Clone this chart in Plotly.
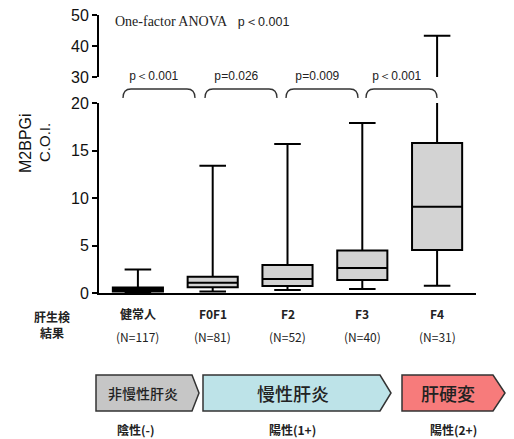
import plotly.graph_objects as go

# ---- data ----
categories = ["健常人", "F0F1", "F2", "F3", "F4"]
n_labels = ["(N=117)", "(N=81)", "(N=52)", "(N=40)", "(N=31)"]
q1 = [0.2, 0.63, 0.77, 1.4, 4.56]
median = [0.4, 1.1, 1.5, 2.66, 9.1]
q3 = [0.6, 1.75, 2.98, 4.5, 15.8]
lower = [0.1, 0.2, 0.35, 0.45, 0.8]
upper = [2.5, 13.4, 15.7, 17.9, 43.3]
lower_ticks = [0, 5, 10, 15, 20]
upper_ticks = [30, 40, 50]
p_values = ["p＜0.001", "p=0.026", "p=0.009", "p＜0.001"]
anova_text = "One-factor ANOVA"
anova_p = "p＜0.001"
stages = ["非慢性肝炎", "慢性肝炎", "肝硬変"]
stage_results = ["陰性(-)", "陽性(1+)", "陽性(2+)"]

W, H = 514, 439


def px(x):
    return x / W


def py(y):
    return 1 - y / H


def ptxt(t):
    return '<span style="font-family:\'Liberation Mono\'">' + t[0] + '</span>' + t[1:]


fig = go.Figure()

box_style = dict(
    x=categories, q1=q1, median=median, q3=q3,
    lowerfence=lower, upperfence=upper,
    boxpoints=False, fillcolor="#d3d3d3",
    line=dict(color="black", width=2),
    width=0.67, whiskerwidth=0.53,
    showlegend=False, hoverinfo="skip",
)
fig.add_trace(go.Box(xaxis="x", yaxis="y", **box_style))
fig.add_trace(go.Box(xaxis="x", yaxis="y2", **box_style))

axis_common = dict(
    showline=True, linecolor="black", linewidth=2,
    ticks="outside", ticklen=5, tickwidth=2, tickcolor="black",
    showgrid=False, zeroline=False, automargin=False,
    tickfont=dict(family="Liberation Sans", size=16, color="#111"),
    anchor="x",
)

fig.update_layout(
    width=W, height=H, autosize=False,
    margin=dict(l=0, r=0, t=0, b=0, pad=0, autoexpand=False),
    paper_bgcolor="white", plot_bgcolor="white",
    boxmode="overlay",
    xaxis=dict(type="category", domain=[px(99), px(476)], range=[-0.52, 4.52],
               showline=True, linecolor="black", linewidth=2, automargin=False,
               ticks="", showticklabels=False, showgrid=False, zeroline=False,
               anchor="y"),
    yaxis=dict(domain=[py(293.3), py(103)], range=[0, 20],
               tickvals=lower_ticks, **axis_common),
    yaxis2=dict(domain=[py(77), py(15)], range=[30, 50],
                tickvals=upper_ticks, **axis_common),
)

C = dict(showarrow=False, xanchor="center", yanchor="middle")
JP = "Noto Sans CJK JP"
ann = []
# category labels
for c, n in zip(categories, n_labels):
    ann.append(dict(x=c, xref="x", y=py(313), yref="paper", text=c, **C,
                    font=dict(family=JP, size=12, color="#222", weight=600)))
    ann.append(dict(x=c, xref="x", y=py(336), yref="paper", text=n, **C,
                    font=dict(family=JP, size=12, color="#222")))

ann.append(dict(x=px(52), y=py(324), xref="paper", yref="paper", text="肝生検<br>結果",
                **C, font=dict(family=JP, size=12, color="#222", weight=600)))

# y-axis titles
ann.append(dict(x=px(25), y=py(143), xref="paper", yref="paper", text="M2BPGi",
                textangle=-90, **C,
                font=dict(family="Liberation Sans", size=16, color="#111")))
ann.append(dict(x=px(44), y=py(143), xref="paper", yref="paper", text="C.O.I.",
                textangle=-90, **C,
                font=dict(family="Liberation Sans", size=15, color="#111")))

# ANOVA
ann.append(dict(x=px(113), y=py(22), xref="paper", yref="paper", xanchor="left",
                yanchor="middle", showarrow=False,
                text='<span style="font-family:\'Liberation Serif\';font-size:14px">' + anova_text
                     + "</span>   " + ptxt(anova_p),
                font=dict(family="Liberation Sans", size=12.5, color="#222")))

# brackets + p-values
shapes = []
bracket_spans = [(123, 195), (205, 277), (286, 358), (366, 437)]
top, bot, r = 89, 98, 8
for (x0, x1), p in zip(bracket_spans, p_values):
    path = (f"M {px(x0)},{py(bot)} Q {px(x0)},{py(top)} {px(x0 + r)},{py(top)} "
            f"L {px(x1 - r)},{py(top)} Q {px(x1)},{py(top)} {px(x1)},{py(bot)}")
    shapes.append(dict(type="path", path=path, xref="paper", yref="paper",
                       line=dict(color="#333", width=1.3)))
    ann.append(dict(x=px((x0 + x1) / 2 - 5), y=py(77), xref="paper", yref="paper",
                    text=ptxt(p), **C,
                    font=dict(family="Liberation Sans", size=12, color="#222")))

# stage arrows
arrow_geom = [(96, 192, 199), (203, 380, 391), (402, 493, 505)]
arrow_fill = ["#c6c6c6", "#bde3e8", "#f77b7b"]
stage_font = [14, 18, 18]
stage_x = [143, 293, 448]
result_x = [136, 292, 453]
ay0, ay1 = 375, 411
for (x0, x1, xt), fc, fs, sx, rx, s, res in zip(arrow_geom, arrow_fill, stage_font,
                                               stage_x, result_x, stages, stage_results):
    path = (f"M {px(x0)},{py(ay0)} L {px(x1)},{py(ay0)} L {px(xt)},{py((ay0 + ay1) / 2)} "
            f"L {px(x1)},{py(ay1)} L {px(x0)},{py(ay1)} Z")
    shapes.append(dict(type="path", path=path, xref="paper", yref="paper",
                       fillcolor=fc, line=dict(color="#333", width=1.5)))
    ann.append(dict(x=px(sx), y=py(393), xref="paper", yref="paper", text=s, **C,
                    font=dict(family=JP, size=fs, color="#222", weight=500)))
    ann.append(dict(x=px(rx), y=py(429), xref="paper", yref="paper", text=res, **C,
                    font=dict(family=JP, size=12, color="#222", weight=600)))

fig.update_layout(annotations=ann, shapes=shapes)
fig.write_html("out.html", config={"displayModeBar": False},
               post_script="document.body.style.margin='0';document.body.style.overflow='hidden';")
